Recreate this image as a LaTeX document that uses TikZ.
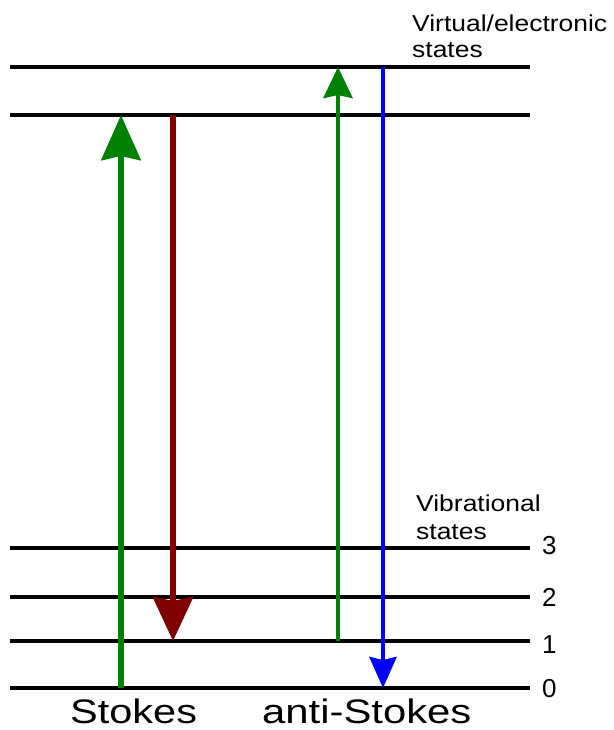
\documentclass[tikz,border=0pt]{standalone}
\usepackage{fontspec}
\setmainfont{Liberation Sans}
\usetikzlibrary{arrows.meta}
\begin{document}
\begin{tikzpicture}[x=1pt,y=-1pt,
  lvlline/.style={line width=3.5pt, draw=black},
  bigarrow/.style={line width=6.5pt},
  smallarrow/.style={line width=4.5pt},
  lbltext/.style={inner sep=0pt, anchor=base west, font=\fontsize{23}{27}\selectfont},
  numtext/.style={inner sep=0pt, anchor=base west, font=\fontsize{26}{30}\selectfont},
  captext/.style={inner sep=0pt, anchor=base west, font=\fontsize{34}{40}\selectfont}]
\definecolor{agreen}{RGB}{0,128,0}
\definecolor{ared}{RGB}{128,0,0}
\definecolor{ablue}{RGB}{0,0,255}
\useasboundingbox (0,0) rectangle (613,730);
\foreach \n/\y in {ve2/67, ve1/115, v3/548, v2/597, v1/641, v0/688} {
  \coordinate (\n L) at (10,\y);
  \coordinate (\n R) at (530,\y);
  \draw[lvlline] (\n L) -- (\n R);
}
% arrow end points
\coordinate (sg0) at (121,688);
\coordinate (sg1) at (121,115);
\coordinate (sr1) at (173,115);
\coordinate (sr0) at (173,641);
\coordinate (ag0) at (338,641);
\coordinate (ag1) at (338,67);
\coordinate (ab1) at (383,67);
\coordinate (ab0) at (383,688);
\draw[bigarrow, agreen, -{Stealth[length=45pt,width=39pt,inset=4pt]}] (sg0) -- (sg1);
\draw[bigarrow, ared, -{Stealth[length=44pt,width=40pt,inset=4pt]}] (sr1) -- (sr0);
\draw[smallarrow, agreen, -{Stealth[length=31pt,width=29pt,inset=3pt]}] (ag0) -- (ag1);
\draw[smallarrow, ablue, -{Stealth[length=31pt,width=27pt,inset=3pt]}] (ab1) -- (ab0);
% labels
\node[lbltext] (ve) at (412,32) {\scalebox{1.15}[1]{Virtual/electronic}};
\node[lbltext] (ves) at (412,58) {\scalebox{1.15}[1]{states}};
\node[lbltext] (vib) at (416,511) {\scalebox{1.15}[1]{Vibrational}};
\node[lbltext] (vibs) at (416,539) {\scalebox{1.15}[1]{states}};
\node[numtext] (n3) at (542,554) {3};
\node[numtext] (n2) at (542,606) {2};
\node[numtext] (n1) at (542,653) {1};
\node[numtext] (n0) at (542,697) {0};
\node[captext] (stokes) at (70,723) {\scalebox{1.22}[1]{Stokes}};
\node[captext] (astokes) at (262,723) {\scalebox{1.23}[1]{anti-Stokes}};
\end{tikzpicture}
\end{document}
